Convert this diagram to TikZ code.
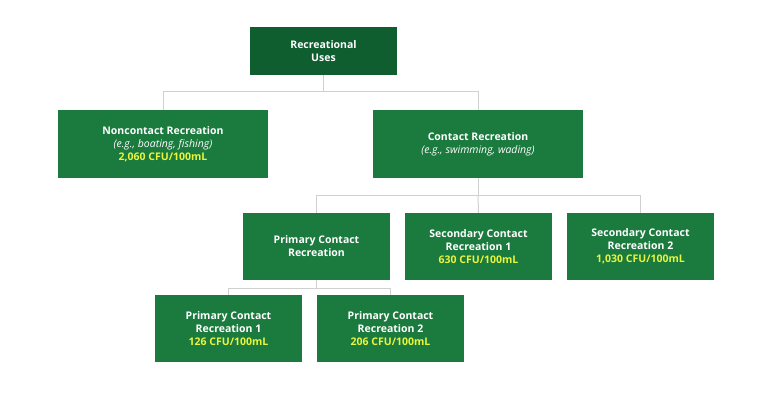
\documentclass[tikz,border=0pt]{standalone}
\usepackage{fontspec}
\setmainfont{Open Sans}
\usetikzlibrary{positioning}
\definecolor{darkgreen}{HTML}{0E5E30}
\definecolor{boxgreen}{HTML}{1B7A3E}
\definecolor{limit}{HTML}{E8F53C}
\definecolor{wire}{HTML}{D0D0D0}
\tikzset{
  box/.style={fill=boxgreen, text=white, font=\bfseries\fontsize{10.5}{13}\selectfont, align=center, inner sep=0pt},
  small/.style={box, minimum width=147pt, minimum height=67pt},
  wide/.style={box, minimum width=210pt, minimum height=68pt},
  link/.style={draw=wire, line width=1pt}
}
\newcommand{\cfu}[1]{\textcolor{limit}{#1 CFU/100mL}}
\newcommand{\eg}[1]{{\normalfont\itshape #1}}
\begin{document}
\begin{tikzpicture}[x=1pt,y=-1pt]
  \useasboundingbox (0,0) rectangle (768,417);

  \node[small, fill=darkgreen, minimum height=48pt] (uses) at (323.5, 51) {Recreational\\Uses};
  \node[wide] (noncontact) at (163, 144) {Noncontact Recreation\\\eg{(e.g., boating, fishing)}\\\cfu{2,060}};
  \node[wide] (contact) at (478, 144) {Contact Recreation\\\eg{(e.g., swimming, wading)}};
  \node[small] (primary) at (316.5, 246.5) {Primary Contact\\Recreation};
  \node[small] (second1) at (478.5, 246.5) {Secondary Contact\\Recreation 1\\\cfu{630}};
  \node[small] (second2) at (640.5, 246.5) {Secondary Contact\\Recreation 2\\\cfu{1,030}};
  \node[small] (primary1) at (228.5, 328.5) {Primary Contact\\Recreation 1\\\cfu{126}};
  \node[small] (primary2) at (390.5, 328.5) {Primary Contact\\Recreation 2\\\cfu{206}};

  \coordinate (j1) at (323.5, 92);
  \coordinate (j2) at (478, 195);
  \coordinate (j3) at (316.5, 288);

  \draw[link] (uses.south) -- (j1);
  \draw[link] (j1) -| (noncontact.north);
  \draw[link] (j1) -| (contact.north);
  \draw[link] (contact.south) -- (j2);
  \draw[link] (j2) -| (primary.north);
  \draw[link] (j2) -- (second1.north);
  \draw[link] (j2) -| (second2.north);
  \draw[link] (primary.south) -- (j3);
  \draw[link] (j3) -| (primary1.north);
  \draw[link] (j3) -| (primary2.north);
\end{tikzpicture}
\end{document}
